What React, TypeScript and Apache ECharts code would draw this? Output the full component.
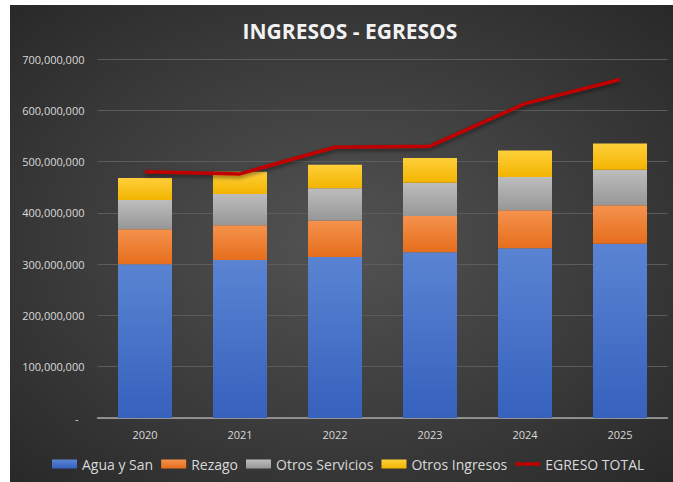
import React, { useEffect, useRef } from "react";
import * as echarts from "echarts";

const years = ["2020", "2021", "2022", "2023", "2024", "2025"];
const aguaSan = [300e6, 308e6, 314e6, 323e6, 331e6, 340e6];
const rezago = [68e6, 68e6, 71e6, 71e6, 74e6, 74.6e6];
const otrosServicios = [57e6, 61e6, 63e6, 64.5e6, 65e6, 69.4e6];
const otrosIngresos = [43e6, 43e6, 46e6, 48.5e6, 51.6e6, 51e6];
const egresoTotal = [480e6, 476e6, 528e6, 530e6, 613e6, 660e6];

const grad = (top: string, bottom: string) =>
  new echarts.graphic.LinearGradient(0, 0, 0, 1, [
    { offset: 0, color: top },
    { offset: 1, color: bottom },
  ]);

export default function App() {
  const ref = useRef<HTMLDivElement>(null);
  useEffect(() => {
    if (!ref.current) return;
    const chart = echarts.init(ref.current, undefined, { renderer: "svg" });
    const font = "'Open Sans', sans-serif";
    const barBase = {
      type: "bar",
      stack: "ing",
      barWidth: 54,
    };
    chart.setOption({
      animation: false,
      backgroundColor: {
        type: "radial",
        x: 0.5,
        y: 0.5,
        r: 0.75,
        colorStops: [
          { offset: 0, color: "#535353" },
          { offset: 1, color: "#262626" },
        ],
      },
      title: {
        text: "INGRESOS - EGRESOS",
        left: 335,
        textAlign: "center",
        top: 10,
        textStyle: {
          color: "#f2f2f2",
          fontSize: 21,
          fontWeight: "bold",
          fontFamily: font,
        },
      },
      grid: { left: 87.5, right: 5.5, top: 54, bottom: 64, containLabel: false },
      legend: {
        top: 447,
        left: 37,
        itemWidth: 25,
        itemHeight: 9,
        itemGap: 8,
        textStyle: { color: "#d9d9d9", fontSize: 14, fontFamily: font },
        data: [
          { name: "Agua y San", icon: "rect" },
          { name: "Rezago", icon: "rect" },
          { name: "Otros Servicios", icon: "rect" },
          { name: "Otros Ingresos", icon: "rect" },
          { name: "EGRESO TOTAL", icon: "path://M0,0M0,9M0,2.8H25V6.2H0Z" },
        ],
      },
      xAxis: {
        type: "category",
        data: years,
        axisTick: { show: false },
        axisLine: { lineStyle: { color: "#a6a6a6", width: 1.5 } },
        axisLabel: { color: "#d9d9d9", fontSize: 11, fontFamily: font, margin: 11 },
      },
      yAxis: {
        type: "value",
        min: 0,
        max: 700e6,
        interval: 100e6,
        axisLine: { show: false },
        axisTick: { show: false },
        splitLine: { lineStyle: { color: "#5c5c5c", width: 1 } },
        axisLabel: {
          color: "#d9d9d9",
          fontSize: 11,
          fontFamily: font,
          margin: 13,
          formatter: (v: number) =>
            v === 0 ? "{d|-}" : v.toLocaleString("en-US"),
          rich: { d: { color: "#d9d9d9", fontSize: 11, padding: [0, 6, 0, 0] } },
        },
      },
      series: [
        {
          ...barBase,
          name: "Agua y San",
          data: aguaSan,
          itemStyle: { color: grad("#5a84d2", "#3661bd") },
        },
        {
          ...barBase,
          name: "Rezago",
          data: rezago,
          itemStyle: { color: grad("#f5924d", "#e66e1c") },
        },
        {
          ...barBase,
          name: "Otros Servicios",
          data: otrosServicios,
          itemStyle: { color: grad("#bdbdbd", "#979797") },
        },
        {
          ...barBase,
          name: "Otros Ingresos",
          data: otrosIngresos,
          itemStyle: { color: grad("#ffcf3a", "#f2b400") },
        },
        {
          type: "line",
          name: "EGRESO TOTAL",
          data: egresoTotal,
          symbol: "none",
          z: 5,
          itemStyle: { color: "#c00000" },
          lineStyle: {
            color: "#c00000",
            width: 3.5,
            shadowColor: "rgba(0,0,0,0.55)",
            shadowBlur: 4,
            shadowOffsetY: 2,
          },
        },
      ],
    });
    return () => chart.dispose();
  }, []);
  return (
    <div
      ref={ref}
      style={{ position: "absolute", left: 10, top: 5, width: 663, height: 477 }}
    />
  );
}
